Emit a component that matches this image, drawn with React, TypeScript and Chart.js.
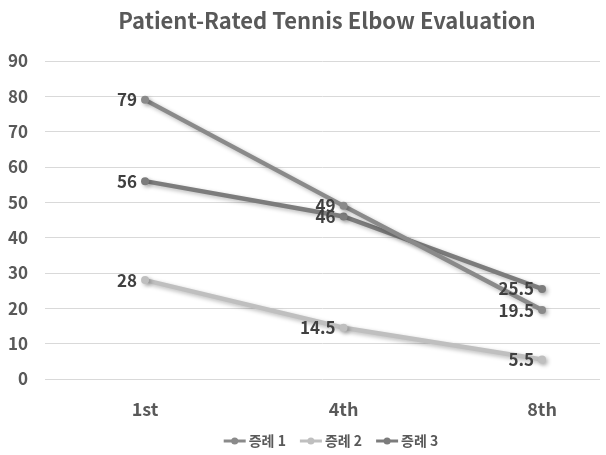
import React, { useEffect, useRef } from "react";
import { Chart, registerables } from "chart.js";

Chart.register(...registerables);

const title = "Patient-Rated Tennis Elbow Evaluation";
const categories = ["1st", "4th", "8th"];
const seriesNames = ["증례 1", "증례 2", "증례 3"];
const case1 = [79, 49, 19.5];
const case2 = [28, 14.5, 5.5];
const case3 = [56, 46, 25.5];
const yTicks = [0, 10, 20, 30, 40, 50, 60, 70, 80, 90];

const colors = ["#8a8a8a", "#bfbfbf", "#7c7c7c"];
const FONT = "'Noto Sans CJK KR', 'Noto Sans', sans-serif";

const shadowPlugin = {
  id: "shadow",
  beforeDatasetDraw(chart: any) {
    const ctx = chart.ctx;
    ctx.save();
    ctx.shadowColor = "rgba(0,0,0,0.28)";
    ctx.shadowBlur = 4;
    ctx.shadowOffsetX = 2;
    ctx.shadowOffsetY = 2;
  },
  afterDatasetDraw(chart: any) {
    chart.ctx.restore();
  },
};

const labelsPlugin = {
  id: "pointLabels",
  afterDatasetsDraw(chart: any) {
    const ctx = chart.ctx;
    ctx.save();
    ctx.font = `bold 17px ${FONT}`;
    ctx.fillStyle = "#404040";
    ctx.textAlign = "right";
    ctx.textBaseline = "middle";
    chart.data.datasets.forEach((ds: any, i: number) => {
      const meta = chart.getDatasetMeta(i);
      meta.data.forEach((pt: any, j: number) => {
        const v = ds.data[j].y;
        ctx.fillText(String(v), pt.x - 8, pt.y);
      });
    });
    ctx.restore();
  },
};

const decorPlugin = {
  id: "decor",
  afterDraw(chart: any) {
    const ctx = chart.ctx;
    ctx.save();
    // title
    ctx.font = `bold 22px ${FONT}`;
    ctx.fillStyle = "#595959";
    ctx.textAlign = "center";
    ctx.textBaseline = "alphabetic";
    ctx.fillText(title, 327, 29);
    // legend
    ctx.font = `bold 14px ${FONT}`;
    const markerW = 22;
    const gap = 3;
    const itemGap = 14;
    const widths = chart.data.datasets.map((ds: any) => markerW + gap + ctx.measureText(ds.label).width);
    const total = widths.reduce((a: number, b: number) => a + b, 0) + itemGap * (widths.length - 1);
    let x = 331 - total / 2;
    const y = 441;
    chart.data.datasets.forEach((ds: any, i: number) => {
      ctx.strokeStyle = ds.borderColor;
      ctx.lineWidth = 3;
      ctx.beginPath();
      ctx.moveTo(x, y);
      ctx.lineTo(x + markerW, y);
      ctx.stroke();
      ctx.fillStyle = ds.borderColor;
      ctx.beginPath();
      ctx.arc(x + markerW / 2, y, 3.5, 0, Math.PI * 2);
      ctx.fill();
      ctx.fillStyle = "#595959";
      ctx.textAlign = "left";
      ctx.textBaseline = "middle";
      ctx.fillText(ds.label, x + markerW + gap, y);
      x += widths[i] + itemGap;
    });
    ctx.restore();
  },
};

export default function App() {
  const ref = useRef<HTMLCanvasElement>(null);
  useEffect(() => {
    document.body.style.margin = "0";
    const all = [case1, case2, case3];
    const chart = new Chart(ref.current!, {
      type: "line",
      data: {
        datasets: all.map((vals, i) => ({
          label: seriesNames[i],
          data: vals.map((v, j) => ({ x: j, y: v })),
          borderColor: colors[i],
          backgroundColor: colors[i],
          borderWidth: 4.5,
          pointRadius: 4,
          pointHoverRadius: 4,
          pointBackgroundColor: colors[i],
          pointBorderWidth: 0,
          fill: false,
          tension: 0,
        })),
      },
      options: {
        animation: false,
        responsive: false,
        layout: { padding: { top: 61, right: 6, left: 0, bottom: 0 } },
        plugins: {
          legend: { display: false },
          title: { display: false },
          tooltip: { enabled: false },
        },
        scales: {
          x: {
            type: "linear",
            min: -0.504,
            max: 2.292,
            afterBuildTicks: (scale: any) => {
              scale.ticks = categories.map((_, i) => ({ value: i }));
            },
            afterFit: (scale: any) => {
              scale.height = 76;
            },
            grid: { display: false, drawTicks: false },
            border: { display: false },
            ticks: {
              padding: 19,
              color: "#595959",
              font: { family: FONT, size: 18, weight: "bold" },
              callback: (v: any) => categories[v] ?? "",
            },
          },
          y: {
            min: 0,
            max: 90,
            afterBuildTicks: (scale: any) => {
              scale.ticks = yTicks.map((v) => ({ value: v }));
            },
            afterFit: (scale: any) => {
              scale.width = 45;
            },
            grid: { color: "#d9d9d9", lineWidth: 1, drawTicks: false },
            border: { display: false },
            ticks: {
              padding: 17,
              color: "#595959",
              font: { family: FONT, size: 17, weight: "bold" },
            },
          },
        },
      },
      plugins: [shadowPlugin, labelsPlugin, decorPlugin],
    } as any);
    return () => chart.destroy();
  }, []);
  return (
    <div style={{ position: "absolute", left: 0, top: 0, width: 606, height: 455, background: "#fff" }}>
      <canvas ref={ref} width={606} height={455} />
    </div>
  );
}
